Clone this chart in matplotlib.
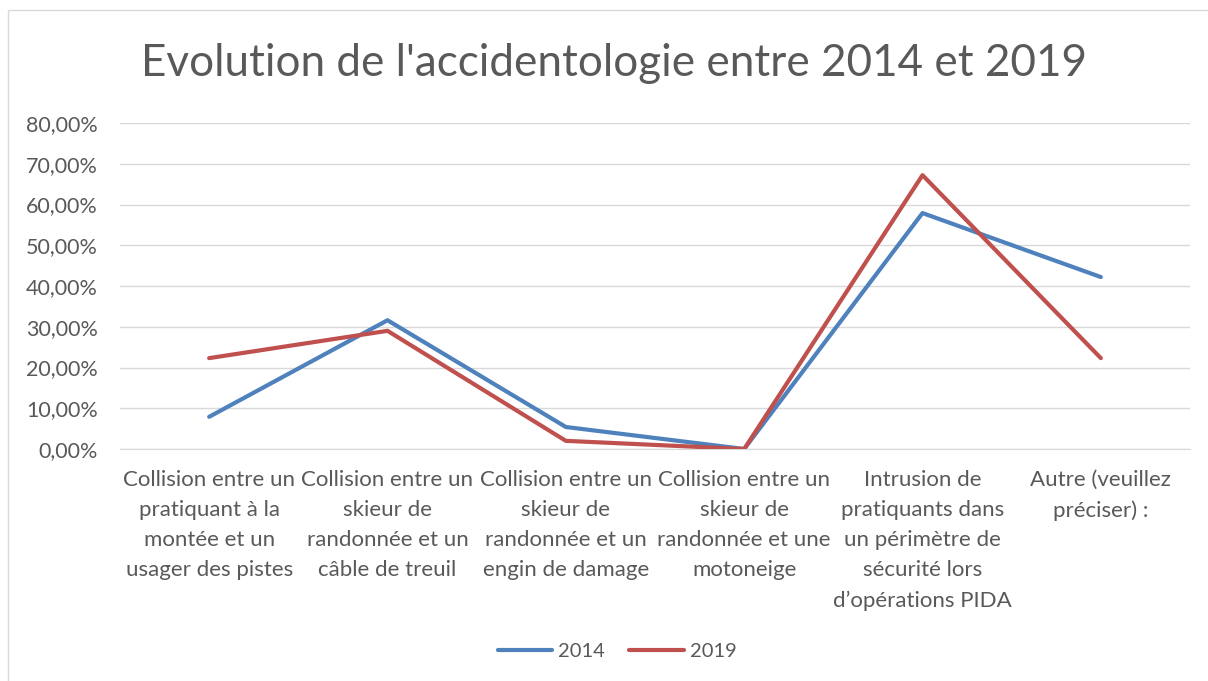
import matplotlib
matplotlib.use("Agg")
import matplotlib.pyplot as plt
from matplotlib.patches import Rectangle
from matplotlib.ticker import FuncFormatter

categories = [
    "Collision entre un\npratiquant à la\nmontée et un\nusager des pistes",
    "Collision entre un\nskieur de\nrandonnée et un\ncâble de treuil",
    "Collision entre un\nskieur de\nrandonnée et un\nengin de damage",
    "Collision entre un\nskieur de\nrandonnée et une\nmotoneige",
    "Intrusion de\npratiquants dans\nun périmètre de\nsécurité lors\nd\u2019opérations PIDA",
    "Autre (veuillez\npréciser) :",
]
values_2014 = [7.9, 31.6, 5.4, 0.0, 57.9, 42.2]
values_2019 = [22.3, 29.0, 2.0, 0.0, 67.2, 22.3]
yticks = [0, 10, 20, 30, 40, 50, 60, 70, 80]

plt.rcParams['font.family'] = ['Lato', 'DejaVu Sans']
text_color = '#595959'

fig = plt.figure(figsize=(12.08, 6.81), dpi=100)
ax = fig.add_axes([120/1208, 1-449/681, 1070/1208, (449-123)/681])

x = list(range(len(categories)))
ax.plot(x, values_2014, color='#4F81BD', lw=3.0, label='2014', solid_capstyle='round', solid_joinstyle='round', zorder=3)
ax.plot(x, values_2019, color='#C0504D', lw=3.0, label='2019', solid_capstyle='round', solid_joinstyle='round', zorder=3)

ax.set_xlim(-0.5, len(categories)-0.5)
ax.set_ylim(0, 80)
ax.set_yticks(yticks)
ax.yaxis.set_major_formatter(FuncFormatter(lambda v, p: f"{v:.2f}".replace('.', ',') + '%'))
ax.set_xticks(x)
ax.set_xticklabels(categories, linespacing=1.63)
ax.grid(axis='y', color='#D9D9D9', lw=1)
ax.set_axisbelow(True)
for s in ['top', 'right', 'left']:
    ax.spines[s].set_visible(False)
ax.spines['bottom'].set_color('#D9D9D9')
ax.tick_params(axis='y', length=0, pad=16, labelsize=15.5, labelcolor=text_color)
ax.tick_params(axis='x', length=0, pad=15, labelsize=16, labelcolor=text_color)

fig.text(614/1208, 1-63/681, "Evolution de l'accidentologie entre 2014 et 2019",
         ha='center', va='center', fontsize=31.7, color=text_color, fontweight='normal')

fig.legend(loc='center', bbox_to_anchor=(617/1208, 1-651/681), ncol=2, frameon=False,
           fontsize=14.5, labelcolor=text_color, handlelength=2.7, handletextpad=0.3, columnspacing=1.2)

fig.add_artist(Rectangle((8/1208, -0.01), 1.01, 1-10/681+0.01, transform=fig.transFigure,
                         fill=False, edgecolor='#D9D9D9', lw=1))

fig.savefig('out.png', dpi=100)
